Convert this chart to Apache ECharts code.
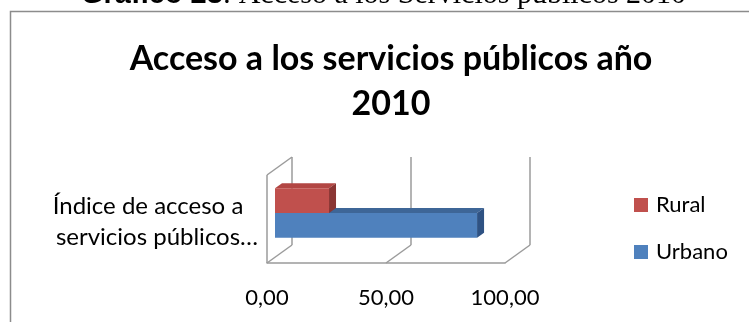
<!DOCTYPE html>
<html>
<head>
<meta charset="utf-8">
<script src="https://cdn.jsdelivr.net/npm/echarts@6/dist/echarts.min.js"></script>
<style>
  html, body { margin: 0; padding: 0; background: #ffffff; }
  #chart { width: 749px; height: 322px; }
</style>
</head>
<body>
<div id="chart"></div>
<script>
// Data
const categories = ['Índice de acceso a servicios públicos…'];
const seriesNames = ['Rural', 'Urbano'];
const ruralValues = [22.7];
const urbanValues = [84.9];
const tickValues = [0, 50, 100];

// Pseudo-3D depth offsets (pixels)
const WALL_DEPTH = [25, -18];
const BAR_FRONT = [8, -6];
const BAR_DEPTH = [7, -5];
const BAR_BAND = 0.28;

const palette = {
  Rural:  { front: '#C0504D', top: '#B24643', side: '#8A3533' },
  Urbano: { front: '#4F81BD', top: '#3E6697', side: '#2F5283' }
};
const wallColor = '#9b9b9b';

const fmt = v => v.toFixed(2).replace('.', ',');

function wallItem(params, api) {
  const v = api.value(0);
  const cs = params.coordSys;
  const bottom = cs.y + cs.height;
  const top = cs.y;
  const x = api.coord([v, 0])[0];
  const [dx, dy] = WALL_DEPTH;
  const ls = { stroke: wallColor, lineWidth: 1.5 };
  const children = [
    { type: 'line', shape: { x1: x + dx, y1: top + dy, x2: x + dx, y2: bottom + dy }, style: ls },
    { type: 'line', shape: { x1: x, y1: bottom, x2: x + dx, y2: bottom + dy }, style: ls }
  ];
  if (v === tickValues[0]) {
    children.push(
      { type: 'line', shape: { x1: x, y1: top, x2: x, y2: bottom }, style: ls },
      { type: 'line', shape: { x1: x, y1: top, x2: x + dx, y2: top + dy }, style: ls }
    );
  }
  return { type: 'group', children };
}

function barItem(name) {
  return function (params, api) {
    const v = api.value(0);
    const cat = api.value(1);
    const start = api.coord([0, cat]);
    const end = api.coord([v, cat]);
    const band = api.size([0, 1])[1];
    const h = band * BAR_BAND;
    const yTop = (name === 'Rural' ? start[1] - h : start[1]) + BAR_FRONT[1];
    const x0 = start[0] + BAR_FRONT[0];
    const x1 = end[0] + BAR_FRONT[0];
    const [dx, dy] = BAR_DEPTH;
    const c = palette[name];
    return {
      type: 'group',
      children: [
        { type: 'polygon', shape: { points: [[x0, yTop], [x1, yTop], [x1 + dx, yTop + dy], [x0 + dx, yTop + dy]] },
          style: { fill: c.top } },
        { type: 'polygon', shape: { points: [[x1, yTop], [x1 + dx, yTop + dy], [x1 + dx, yTop + h + dy], [x1, yTop + h]] },
          style: { fill: c.side } },
        { type: 'rect', shape: { x: x0, y: yTop, width: x1 - x0, height: h },
          style: { fill: c.front } }
      ]
    };
  };
}

const chart = echarts.init(document.getElementById('chart'), null, { renderer: 'canvas' });

chart.setOption({
  backgroundColor: '#ffffff',
  animation: false,
  title: {
    text: 'Acceso a los servicios públicos año\n2010',
    left: 386,
    top: 32,
    textAlign: 'center',
    textStyle: { fontFamily: 'Lato', fontWeight: 'bold', fontSize: 34, lineHeight: 45, color: '#000000' }
  },
  graphic: [
    {
      type: 'rect', z: -10,
      shape: { x: 10.5, y: 11.5, width: 800, height: 400 },
      style: { fill: '#ffffff', stroke: '#8c8c8c', lineWidth: 1.5 }
    },
    {
      type: 'text', left: 81, top: -20,
      style: {
        text: '{b|Gráfico 23}{n|: Acceso a los Servicios públicos 2010}',
        rich: {
          b: { fontFamily: 'Liberation Sans', fontWeight: 'bold', fontSize: 29, fill: '#000' },
          n: { fontFamily: 'Liberation Serif', fontSize: 30, fill: '#000' }
        }
      }
    }
  ],
  legend: {
    orient: 'vertical',
    left: 634,
    top: 194,
    padding: 0,
    itemWidth: 14,
    itemHeight: 14,
    itemGap: 25,
    icon: 'rect',
    data: seriesNames,
    textStyle: { fontFamily: 'Lato', fontSize: 22, color: '#000', padding: [0, 0, 0, 3] }
  },
  grid: { left: 267, top: 175, width: 238, height: 88 },
  xAxis: {
    type: 'value',
    min: tickValues[0],
    max: tickValues[tickValues.length - 1],
    interval: 50,
    axisLine: { show: true, lineStyle: { color: wallColor, width: 1.5 } },
    axisTick: { show: false },
    splitLine: { show: false },
    axisLabel: { formatter: fmt, fontFamily: 'Lato', fontSize: 22, color: '#000', margin: 24 }
  },
  yAxis: {
    type: 'category',
    data: categories,
    axisLine: { show: false },
    axisTick: { show: false },
    axisLabel: {
      formatter: () => '{l1|Índice de acceso a}\n{l2|servicios públicos…}',
      align: 'center',
      margin: 110,
      padding: [5, 0, 0, 0],
      rich: {
        l1: { fontFamily: 'Lato', fontSize: 24, lineHeight: 31, color: '#000', padding: [0, 18, 0, 0] },
        l2: { fontFamily: 'Lato', fontSize: 24, lineHeight: 31, color: '#000' }
      }
    }
  },
  series: [
    {
      name: 'walls', type: 'custom', silent: true, z: 1,
      renderItem: wallItem,
      encode: { x: 0 },
      data: tickValues.map(v => [v]),
      legendHoverLink: false
    },
    {
      name: 'Urbano', type: 'custom', z: 2,
      itemStyle: { color: palette.Urbano.front },
      renderItem: barItem('Urbano'),
      encode: { x: 0, y: 1 },
      data: urbanValues.map((v, i) => [v, i])
    },
    {
      name: 'Rural', type: 'custom', z: 3,
      itemStyle: { color: palette.Rural.front },
      renderItem: barItem('Rural'),
      encode: { x: 0, y: 1 },
      data: ruralValues.map((v, i) => [v, i])
    }
  ]
});
</script>
</body>
</html>
